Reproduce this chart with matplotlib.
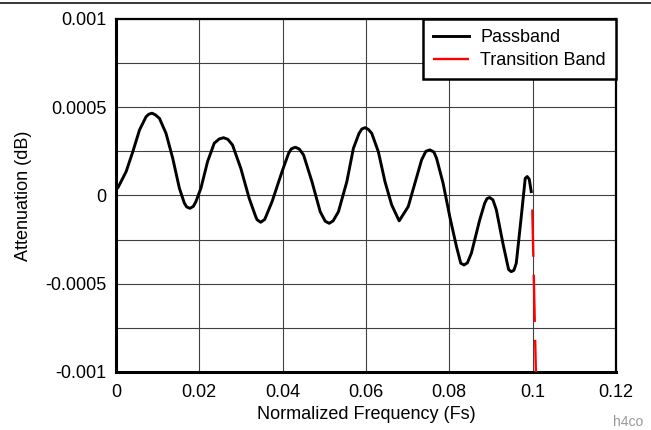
import numpy as np
import matplotlib
matplotlib.use("Agg")
import matplotlib.pyplot as plt
from matplotlib.ticker import FixedLocator, FixedFormatter, MultipleLocator

plt.rcParams['font.family'] = ['Liberation Sans', 'DejaVu Sans']
plt.rcParams['axes.unicode_minus'] = False

# passband ripple (x in Fs, y in 1e-4 dB)
pass_f = [0.0, 0.0005, 0.00246, 0.00407, 0.00567, 0.00725, 0.0079, 0.00868,
          0.0095, 0.01045, 0.01203, 0.01364, 0.01524, 0.01644, 0.01699,
          0.01778, 0.01859, 0.01921, 0.02041, 0.02201, 0.02361, 0.02481,
          0.02584, 0.02687, 0.02799, 0.02998, 0.03199, 0.03356, 0.0339,
          0.03476, 0.03572, 0.03749, 0.03988, 0.04146, 0.04211, 0.04306,
          0.04402, 0.04505, 0.04706, 0.04904, 0.05024, 0.0512, 0.05215,
          0.05342, 0.05543, 0.05701, 0.05837, 0.05902, 0.05981, 0.0606,
          0.06141, 0.06299, 0.06459, 0.0662, 0.06777, 0.068, 0.07017,
          0.07177, 0.07337, 0.0744, 0.07536, 0.07632, 0.07696, 0.07854,
          0.08014, 0.08175, 0.08278, 0.08356, 0.08437, 0.08533, 0.08732,
          0.08852, 0.08907, 0.08971, 0.0905, 0.09132, 0.09289, 0.09426,
          0.0949, 0.09553, 0.0961, 0.0973, 0.09825, 0.09873, 0.09921,
          0.09969]
pass_db = [0.34, 0.44, 1.35, 2.48, 3.71, 4.46, 4.60, 4.66,
           4.56, 4.37, 3.52, 2.11, 0.41, -0.44, -0.65,
           -0.73, -0.62, -0.35, 0.41, 1.92, 2.96, 3.20,
           3.27, 3.18, 2.86, 1.54, -0.16, -1.20, -1.38,
           -1.52, -1.36, -0.35, 1.35, 2.39, 2.64, 2.73,
           2.63, 2.29, 0.78, -0.92, -1.46, -1.58, -1.44,
           -0.92, 0.78, 2.67, 3.52, 3.76, 3.84, 3.74,
           3.52, 2.48, 0.78, -0.54, -1.33, -1.44, -0.63,
           0.69, 2.01, 2.50, 2.58, 2.46, 2.11, 0.69,
           -1.20, -2.90, -3.84, -3.94, -3.82, -3.27, -1.39,
           -0.44, -0.18, -0.12, -0.25, -0.82, -2.71, -4.20,
           -4.32, -4.24, -3.84, -1.20, 0.97, 1.07, 0.92,
           0.22]
pass_db = [v * 1e-4 for v in pass_db]

# start of transition band
trans_f = [0.09995, 0.1009]
trans_db = [-0.00008, -0.0011]

yticks = [-0.001, -0.0005, 0, 0.0005, 0.001]
ylabels = ['-0.001', '-0.0005', '0', '0.0005', '0.001']
xticks = [0, 0.02, 0.04, 0.06, 0.08, 0.1, 0.12]
xlabels = ['0', '0.02', '0.04', '0.06', '0.08', '0.1', '0.12']

fig = plt.figure(figsize=(6.51, 4.30), dpi=100)
ax = fig.add_axes([0.178, 0.135, 0.768, 0.821])

ax.plot(pass_f, pass_db, color='black', lw=2.1, label='Passband', zorder=3,
        solid_joinstyle='round')
ax.plot(trans_f, trans_db, color='red', lw=1.7, dashes=(20, 7.6),
        label='Transition Band', zorder=3)

ax.set_xlim(0, 0.12)
ax.set_ylim(-0.001, 0.001)
ax.xaxis.set_major_locator(FixedLocator(xticks))
ax.xaxis.set_major_formatter(FixedFormatter(xlabels))
ax.yaxis.set_major_locator(FixedLocator(yticks))
ax.yaxis.set_major_formatter(FixedFormatter(ylabels))
ax.yaxis.set_minor_locator(MultipleLocator(0.00025))
ax.grid(True, which='both', color='0.25', lw=0.8)
ax.tick_params(which='both', length=0, labelsize=13, pad=7)
ax.tick_params(axis='x', pad=9)

for side in ['left', 'bottom']:
    ax.spines[side].set_linewidth(2.2)
for side in ['top', 'right']:
    ax.spines[side].set_linewidth(1.6)

ax.set_xlabel('Normalized Frequency (Fs)', fontsize=13, labelpad=3)
ax.set_ylabel('Attenuation (dB)', fontsize=13, labelpad=9)

leg = ax.legend(loc='upper right', bbox_to_anchor=(1.0, 1.0), borderaxespad=0,
                fancybox=False, framealpha=1, edgecolor='black', fontsize=13,
                handlelength=2.0, handletextpad=0.6, labelspacing=0.35,
                borderpad=0.55)
leg.get_frame().set_linewidth(1.8)
leg.set_zorder(5)

# header rule and watermark
fig.add_artist(plt.Line2D([0, 1], [0.994, 0.994], color='black', lw=1.1))
fig.text(0.988, 0.019, 'h4co', color='0.6', fontsize=10, ha='right', va='center')

fig.savefig('out.png', dpi=100)
